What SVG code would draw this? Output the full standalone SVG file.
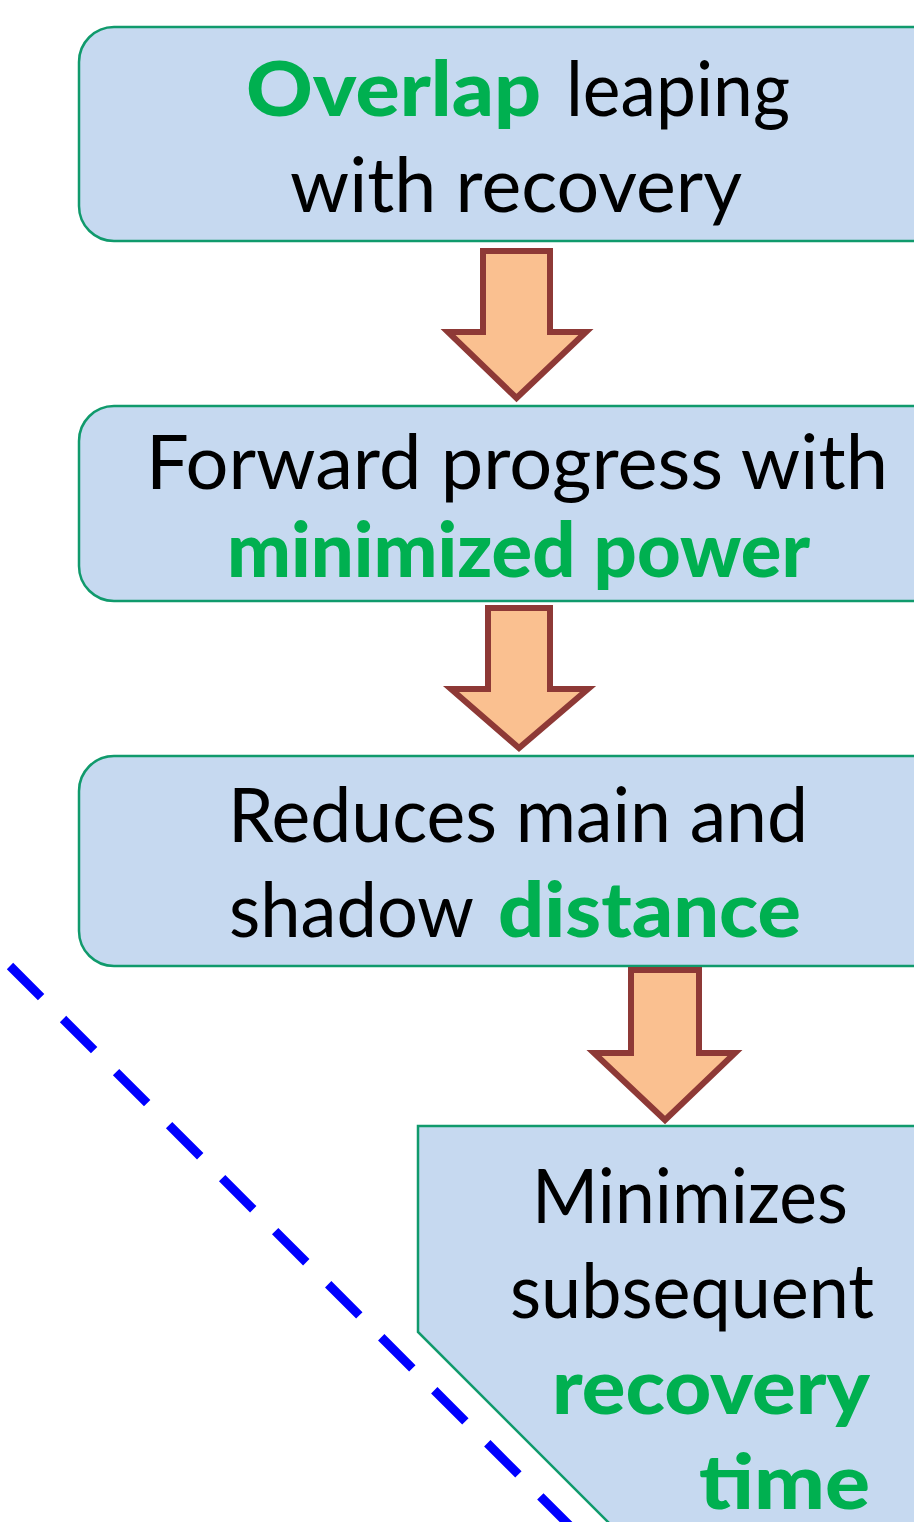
<svg xmlns="http://www.w3.org/2000/svg" width="914" height="1522" viewBox="0 0 914 1522">
  <style>
    .box { fill: #C6D9F0; stroke: #109A6C; stroke-width: 2.5; }
    .arrow { fill: #FAC090; stroke: #8E3936; stroke-width: 6; stroke-linejoin: miter; }
    .t { font-family: "Lato", "Liberation Sans", sans-serif; font-size: 76px; fill: #000; }
    .g { font-weight: 900; fill: #00B050; }
    .cut { fill: none; stroke: #0000FF; stroke-width: 9; stroke-dasharray: 44 31; }
  </style>

  <rect width="914" height="1522" fill="#FFFFFF"/>

  <!-- dashed boundary line -->
  <line class="cut" x1="10" y1="966" x2="580" y2="1536"/>

  <g id="node-overlap">
    <rect class="box" x="79" y="27" width="900" height="214" rx="35"/>
    <text class="t g" x="246" y="116" textLength="295" lengthAdjust="spacingAndGlyphs">Overlap</text>
    <text class="t" x="566" y="116" textLength="224" lengthAdjust="spacingAndGlyphs">leaping</text>
    <text class="t" x="290" y="212" textLength="452" lengthAdjust="spacingAndGlyphs">with recovery</text>
  </g>

  <g id="node-forward">
    <rect class="box" x="79" y="406" width="900" height="195" rx="35"/>
    <text class="t" x="146" y="489" textLength="742" lengthAdjust="spacingAndGlyphs">Forward progress with</text>
    <text class="t g" x="227" y="577" textLength="583" lengthAdjust="spacingAndGlyphs">minimized power</text>
  </g>

  <g id="node-reduces">
    <rect class="box" x="79" y="756" width="900" height="210" rx="35"/>
    <text class="t" x="228" y="842" textLength="580" lengthAdjust="spacingAndGlyphs">Reduces main and</text>
    <text class="t" x="229" y="937" textLength="245" lengthAdjust="spacingAndGlyphs">shadow</text>
    <text class="t g" x="498" y="937" textLength="303" lengthAdjust="spacingAndGlyphs">distance</text>
  </g>

  <g id="node-minimizes">
    <polygon class="box" points="418,1126 980,1126 980,1560 646,1560 418,1332"/>
    <text class="t" x="532" y="1223" textLength="316" lengthAdjust="spacingAndGlyphs">Minimizes</text>
    <text class="t" x="510" y="1318" textLength="364" lengthAdjust="spacingAndGlyphs">subsequent</text>
    <text class="t g" x="552" y="1414" textLength="318" lengthAdjust="spacingAndGlyphs">recovery</text>
    <text class="t g" x="699" y="1509" textLength="171" lengthAdjust="spacingAndGlyphs">time</text>
  </g>

  <g id="connectors">
    <polygon class="arrow" points="483,251 550,251 550,332 586,332 516.5,398 448,332 483,332"/>
    <polygon class="arrow" points="488,608 550,608 550,689 588,689 519,748 451,689 488,689"/>
    <polygon class="arrow" points="631,970 699,970 699,1053 735,1053 665,1120 594,1053 631,1053"/>
  </g>
</svg>
